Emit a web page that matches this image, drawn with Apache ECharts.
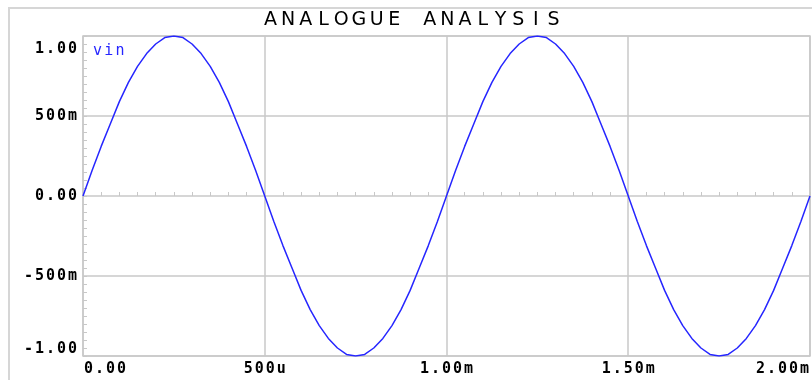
<!DOCTYPE html>
<html>
<head>
<meta charset="utf-8">
<script src="https://cdn.jsdelivr.net/npm/echarts@6/dist/echarts.min.js"></script>
<style>html,body{margin:0;padding:0;background:#fff;}#c{width:812px;height:380px;}</style>
</head>
<body>
<div id="c"></div>
<script>
// Sample times (microseconds) and vin values (volts)
const timeUs = [0,25,50,75,100,125,150,175,200,225,250,275,300,325,350,375,400,425,450,475,
  500,525,550,575,600,625,650,675,700,725,750,775,800,825,850,875,900,925,950,975,
  1000,1025,1050,1075,1100,1125,1150,1175,1200,1225,1250,1275,1300,1325,1350,1375,1400,1425,1450,1475,
  1500,1525,1550,1575,1600,1625,1650,1675,1700,1725,1750,1775,1800,1825,1850,1875,1900,1925,1950,1975,2000];
const vin = [0.00,0.16,0.31,0.45,0.59,0.71,0.81,0.89,0.95,0.99,1.00,0.99,0.95,0.89,0.81,0.71,0.59,0.45,0.31,0.16,
  0.00,-0.16,-0.31,-0.45,-0.59,-0.71,-0.81,-0.89,-0.95,-0.99,-1.00,-0.99,-0.95,-0.89,-0.81,-0.71,-0.59,-0.45,-0.31,-0.16,
  0.00,0.16,0.31,0.45,0.59,0.71,0.81,0.89,0.95,0.99,1.00,0.99,0.95,0.89,0.81,0.71,0.59,0.45,0.31,0.16,
  0.00,-0.16,-0.31,-0.45,-0.59,-0.71,-0.81,-0.89,-0.95,-0.99,-1.00,-0.99,-0.95,-0.89,-0.81,-0.71,-0.59,-0.45,-0.31,-0.16,0.00];
const seriesName = 'vin';
const titleText = 'ANALOGUE ANALYSIS';
const xTickValues = [0, 500, 1000, 1500, 2000];
const xTickLabels = ['0.00', '500u', '1.00m', '1.50m', '2.00m'];
const yTickValues = [-1, -0.5, 0, 0.5, 1];
const yTickLabels = ['-1.00', '-500m', '0.00', '500m', '1.00'];

function spread(s, style) {
  return s.split('').map(c => '{' + style + '|' + c + '}').join('');
}
function lookup(vals, labels, v) {
  for (let i = 0; i < vals.length; i++) if (Math.abs(vals[i] - v) < 1e-9) return labels[i];
  return '';
}

const chart = echarts.init(document.getElementById('c'), null, {renderer: 'canvas'});
const gridColor = '#c8c8c8';
const blue = '#2626ff';
const labelFont = {fontFamily: 'DejaVu Sans Mono', fontWeight: 'bold', fontSize: 15, color: '#000', align: 'center'};

chart.setOption({
  backgroundColor: '#fff',
  animation: false,
  title: {
    text: spread(titleText, 't'),
    left: 412, top: 11, textAlign: 'center', padding: 0,
    textStyle: {
      rich: {t: {width: 17.7, align: 'center', fontFamily: 'DejaVu Sans', fontSize: 19, fontWeight: 'normal', color: '#000'}}
    }
  },
  legend: {
    data: [seriesName], left: 88, top: 44, padding: 0, icon: 'none', itemWidth: 0, itemHeight: 0,
    formatter: n => spread(n, 'l'),
    textStyle: {rich: {l: {width: 11.3, fontFamily: 'DejaVu Sans Mono', fontSize: 15, color: blue}}}
  },
  graphic: [{
    type: 'rect', z: -10, silent: true,
    shape: {x: 9, y: 8, width: 900, height: 500},
    style: {fill: 'none', stroke: '#d6d6d6', lineWidth: 2}
  }],
  grid: {left: 83, right: 2, top: 36, bottom: 24, show: true, borderColor: gridColor, borderWidth: 1.5, containLabel: false},
  xAxis: {
    type: 'value', min: 0, max: 2000, interval: 500,
    axisLine: {show: false},
    axisTick: {show: true, inside: true, length: 4, lineStyle: {color: gridColor}},
    minorTick: {show: true, splitNumber: 10, length: 4, lineStyle: {color: gridColor}},
    splitLine: {show: true, lineStyle: {color: gridColor, width: 1.5}},
    axisLabel: {
      margin: 6, alignMinLabel: 'left', alignMaxLabel: 'right',
      formatter: v => spread(lookup(xTickValues, xTickLabels, v), 'c'),
      rich: {c: Object.assign({width: 11}, labelFont)}
    }
  },
  yAxis: {
    type: 'value', min: -1, max: 1, interval: 0.5,
    axisLine: {show: false},
    axisTick: {show: true, inside: true, length: 4, lineStyle: {color: gridColor}},
    minorTick: {show: true, splitNumber: 10, length: 4, lineStyle: {color: gridColor}},
    splitLine: {show: true, lineStyle: {color: gridColor, width: 1.5}},
    axisLabel: {
      margin: 5,
      formatter: v => {
        const s = spread(lookup(yTickValues, yTickLabels, v), 'c');
        if (v >= 1 - 1e-9) return '{sp| }\n' + s;
        if (v <= -1 + 1e-9) return s + '\n{sq| }';
        return s;
      },
      rich: {
        c: Object.assign({width: 11, lineHeight: 14}, labelFont),
        sp: {width: 1, lineHeight: 26, fontSize: 14},
        sq: {width: 1, lineHeight: 14, fontSize: 14}
      }
    }
  },
  series: [{
    name: seriesName, type: 'line', showSymbol: false, smooth: false,
    data: timeUs.map((t, i) => [t, vin[i]]),
    lineStyle: {color: blue, width: 1.5}, itemStyle: {color: blue}
  }]
});
</script>
</body>
</html>
